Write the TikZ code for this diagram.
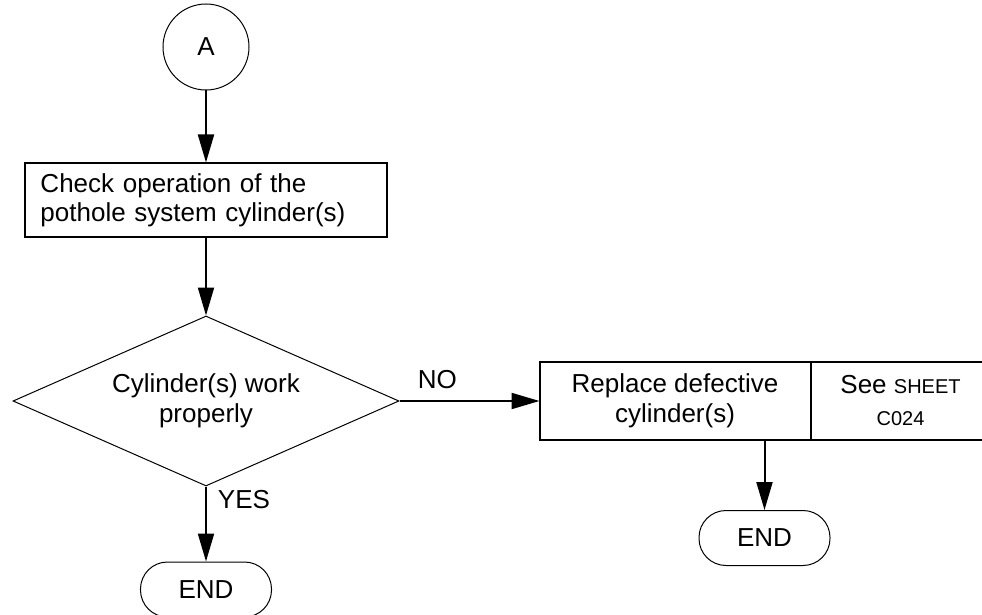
\documentclass[tikz,border=0pt]{standalone}
\usepackage{fontspec}
\setmainfont{Liberation Sans}
\newcommand{\sheetfont}[1]{{\fontsize{20}{24}\selectfont #1}}
\usepackage{tikz}
\usetikzlibrary{
  arrows.meta,
  positioning,
  shapes.geometric
}

\begin{document}
\begin{tikzpicture}[
  font=\fontsize{26}{29}\selectfont,
  conn/.style={circle, draw, line width=1pt, minimum size=86pt, inner sep=0pt},
  box/.style={rectangle, draw, line width=2pt, minimum height=73pt, inner sep=0pt},
  decision/.style={diamond, draw, line width=1pt, aspect=2.27, minimum width=386pt, minimum height=170pt, inner sep=0pt, align=center, font=\fontsize{26}{30}\selectfont},
  term/.style={rectangle, rounded corners=27pt, draw, line width=1pt, minimum width=131pt, minimum height=55pt, inner sep=0pt},
  lbl/.style={inner sep=0pt},
  arr/.style={-{Triangle[length=28pt, width=16pt]}, line width=2pt},
]
\useasboundingbox (-206pt,47pt) rectangle (776pt,-568pt);

% Connector
\node[conn] (A) at (0,0) {A};

% Check
\node[box, minimum width=361pt, text width=331pt, align=left, below=72pt of A] (check) {Check operation of the\\pothole system cylinder(s)};

% Decision
\node[decision, below=78pt of check] (work) {Cylinder(s) work\\properly};

% NO branch
\node[box, minimum width=271pt, minimum height=78pt, outer sep=0pt, align=center, font=\fontsize{26}{30}\selectfont, right=140pt of work] (replace) {Replace defective\\cylinder(s)};
\node[box, minimum width=180pt, minimum height=78pt, outer sep=0pt, align=center, font=\fontsize{26}{32}\selectfont, right=0pt of replace] (sheet) {See \sheetfont{SHEET}\\\sheetfont{C024}};

% Ends
\node[term, below=75pt of work] (end1) {END};
\node[term, below=70pt of replace, xshift=89.5pt] (end2) {END};

\draw[arr] (A) -- (check);
\draw[arr] (check) -- (work);
\draw[arr] (work) -- node[lbl, pos=0.27, above=11pt] {NO} (replace);
\draw[arr] (work) -- node[lbl, pos=0.17, right=11pt] {YES} (end1);
\draw[arr] (end2 |- replace.south) -- (end2);

\end{tikzpicture}
\end{document}
